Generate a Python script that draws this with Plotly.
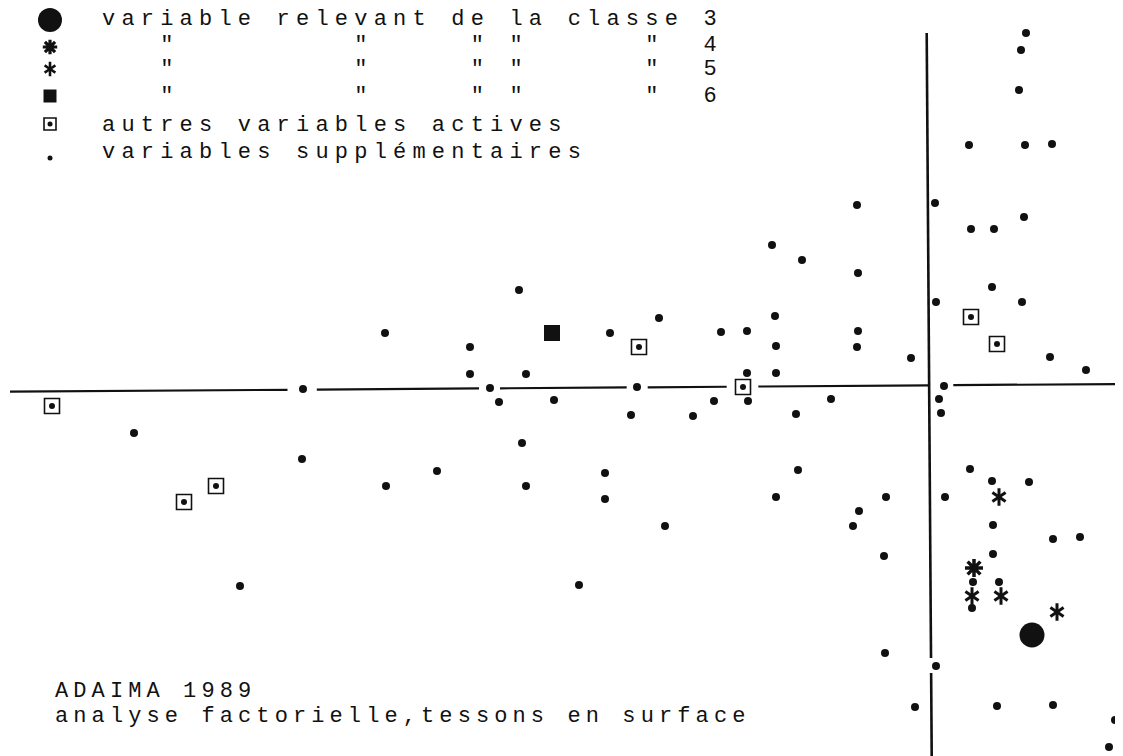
import plotly.graph_objects as go

# Factor scores (axis 1 = horizontal, axis 2 = vertical)
sup_f1 = [0.97, 0.92, 0.90, 0.40, 0.96, 1.23, 0.06, 0.95, 0.42, 0.65, 0.63, 0.07, 0.93,
          -0.18, 1.21, 1.57, 0.15, 0.10, 0.12, 0.41, 0.63, 1.00, -0.43, 0.16, 0.64, 1.24,
          1.51, -0.45, 0.64, 0.44, 0.70, 0.43, -0.44, 0.07, -0.14, 0.68, 1.24, 1.86, 1.80,
          -0.72, -1.57, -1.27, -0.71, -4.10, -2.70, -1.54, -3.19, -2.08, -1.82, -0.71,
          -4.59, -1.53, -0.72, -4.59, -4.03, -1.82, -1.53, -4.39, -2.92, -4.30, -3.75,
          -2.15, -1.81, -0.98, -2.98, -2.36, -1.33, -4.07, -3.24, -1.31, -4.03, -3.24,
          -1.53, -0.70, -2.64, -0.76, -3.50, -7.95, -6.27, -5.44, -6.26, -4.92, -5.43, -6.89]
sup_f2 = [3.53, 3.36, 2.96, 2.41, 2.41, 2.42, 1.83, 1.69, 1.57, 1.57, 0.99, 0.84, 0.84,
          0.28, 0.29, 0.16, 0.00, -0.13, -0.27, -0.83, -0.95, -0.96, -1.11, -1.11, -1.39, -1.53,
          -1.51, -1.70, -1.68, -1.96, -1.96, -2.22, -2.67, -2.80, -3.21, -3.20, -3.19, -3.34, -3.61,
          1.81, 1.41, 1.26, 1.13, 0.96, 0.68, 0.70, 0.53, 0.54, 0.55, 0.55,
          0.39, 0.40, 0.39, 0.12, 0.12, 0.13, 0.13, -0.02, -0.01, -0.16, -0.14,
          -0.15, -0.15, -0.13, -0.29, -0.30, -0.28, -0.57, -0.87, -0.84, -1.00, -1.13,
          -1.11, -1.25, -1.40, -1.40, -1.99, -0.47, -0.73, 0.53, -0.03, -0.85, -1.00, -2.00]

active_f1 = [-8.77, -7.13, -7.45, -2.90, -1.86, 0.42, 0.68]
active_f2 = [-0.20, -1.00, -1.16, 0.39, -0.01, 0.69, 0.42]

class3_f1 = [1.03]
class3_f2 = [-2.49]
class4_f1 = [0.45]
class4_f2 = [-1.82]
class5_f1 = [0.70, 0.43, 0.72, 1.28]
class5_f2 = [-1.11, -2.10, -2.10, -2.26]
class6_f1 = [-3.77]
class6_f2 = [0.53]

# Axis drawing (as typed on the original sheet, with gaps around points)
h_axis_segments = [(-9.19, -6.415), (-6.122, -4.50), (-4.29, -3.023),
                   (-2.813, -2.023), (-1.707, 0.01), (0.243, 2.05)]
h_axis_left_f1, h_axis_left_f2, h_axis_slope = -9.19, -0.057, 0.00692
v_axis_segments = [(3.53, -2.72), (-2.87, -3.80)]
v_axis_top_f1, v_axis_bottom_f1 = -0.023, 0.027

legend_rows = [
    "variable relevant de la classe 3",
    '   "         "     " "      "  4',
    '   "         "     " "      "  5',
    '   "         "     " "      "  6',
    "autres variables actives",
    "variables supplémentaires",
]
footer_lines = ["ADAIMA 1989", "analyse factorielle,tessons en surface"]

W, H = 1123, 756
PAGE_OFF = 8  # default page margin of the written html body
X_RANGE = [-9.21, 2.02]
Y_RANGE = [-3.78, 3.78]
INK = "#111111"
FONT = "Liberation Mono, Courier New, monospace"


def px_x(p):
    return (p - PAGE_OFF) / W


def px_y(p):
    return 1 - (p - PAGE_OFF) / H


fig = go.Figure()

# axes lines
def h_y(f1):
    return h_axis_left_f2 + h_axis_slope * (f1 - h_axis_left_f1)

for a, b in h_axis_segments:
    fig.add_shape(type="line", x0=a, x1=b, y0=h_y(a), y1=h_y(b),
                  line=dict(color=INK, width=2.2), layer="below")

def v_x(f2):
    top, bot = v_axis_segments[0][0], -3.70
    t = (top - f2) / (top - bot)
    return v_axis_top_f1 + t * (v_axis_bottom_f1 - v_axis_top_f1)

for a, b in v_axis_segments:
    fig.add_shape(type="line", x0=v_x(a), x1=v_x(b), y0=a, y1=b,
                  line=dict(color=INK, width=2.6), layer="below")

# supplementary variables
fig.add_trace(go.Scatter(x=sup_f1, y=sup_f2, mode="markers",
                         marker=dict(symbol="circle", size=8, color=INK)))
# other active variables
fig.add_trace(go.Scatter(x=active_f1, y=active_f2, mode="markers",
                         marker=dict(symbol="square-open", size=15, color=INK,
                                     line=dict(width=1.6, color=INK))))
fig.add_trace(go.Scatter(x=active_f1, y=active_f2, mode="markers",
                         marker=dict(symbol="circle", size=6, color=INK)))
# class 3
fig.add_trace(go.Scatter(x=class3_f1, y=class3_f2, mode="markers",
                         marker=dict(symbol="circle", size=25, color=INK)))
# class 4 (heavy asterisk)
fig.add_trace(go.Scatter(x=class4_f1, y=class4_f2, mode="markers",
                         marker=dict(symbol="asterisk-open", size=15, color=INK,
                                     line=dict(width=3.5, color=INK))))
fig.add_trace(go.Scatter(x=class4_f1, y=class4_f2, mode="markers",
                         marker=dict(symbol="circle", size=8, color=INK)))
# class 5 (six-armed asterisk)
for sym in ["y-up-open", "y-down-open"]:
    fig.add_trace(go.Scatter(x=class5_f1, y=class5_f2, mode="markers",
                             marker=dict(symbol=sym, size=11, color=INK,
                                         line=dict(width=3, color=INK))))
# class 6
fig.add_trace(go.Scatter(x=class6_f1, y=class6_f2, mode="markers",
                         marker=dict(symbol="square", size=16, color=INK)))

# custom legend (symbols on an overlay axis in figure fractions)
leg_x = px_x(50)
leg_rows_px = [20, 45, 70, 96, 126, 152]
leg_sym_px = [20, 47, 69, 96, 124, 158]
leg_specs = [
    [dict(symbol="circle", size=24, color=INK)],
    [dict(symbol="asterisk-open", size=12, color=INK, line=dict(width=3.2, color=INK)),
     dict(symbol="circle", size=6, color=INK)],
    [dict(symbol="y-up-open", size=9, color=INK, line=dict(width=2.6, color=INK)),
     dict(symbol="y-down-open", size=9, color=INK, line=dict(width=2.6, color=INK))],
    [dict(symbol="square", size=13, color=INK)],
    [dict(symbol="square-open", size=12, color=INK, line=dict(width=1.6, color=INK)),
     dict(symbol="circle", size=5, color=INK)],
    [dict(symbol="circle", size=5, color=INK)],
]
for i, specs in enumerate(leg_specs):
    for m in specs:
        fig.add_trace(go.Scatter(x=[leg_x], y=[px_y(leg_sym_px[i])], mode="markers",
                                 marker=m, xaxis="x2", yaxis="y2"))


def spaced(s, ls):
    s = s.replace(" ", "\u00a0")
    return f'<span style="letter-spacing:{ls}px">{s}</span>'


for i, row in enumerate(legend_rows):
    fig.add_annotation(x=px_x(100), y=px_y(leg_rows_px[i]), xref="paper", yref="paper",
                       text=spaced(row, 6.2), showarrow=False, xanchor="left",
                       yanchor="middle", font=dict(family=FONT, size=22, color=INK))

foot_px = [691, 716]
for line, ypx in zip(footer_lines, foot_px):
    fig.add_annotation(x=px_x(53), y=px_y(ypx), xref="paper", yref="paper",
                       text=spaced(line, 5.1), showarrow=False, xanchor="left",
                       yanchor="middle", font=dict(family=FONT, size=22, color=INK))

fig.update_layout(
    width=W, height=H, margin=dict(l=0, r=0, t=0, b=0),
    paper_bgcolor="white", plot_bgcolor="white", showlegend=False,
    xaxis=dict(range=X_RANGE, visible=False, fixedrange=True),
    yaxis=dict(range=Y_RANGE, visible=False, fixedrange=True),
    xaxis2=dict(range=[0, 1], visible=False, overlaying="x", fixedrange=True),
    yaxis2=dict(range=[0, 1], visible=False, overlaying="y", fixedrange=True),
)

fig.write_html("out.html")
